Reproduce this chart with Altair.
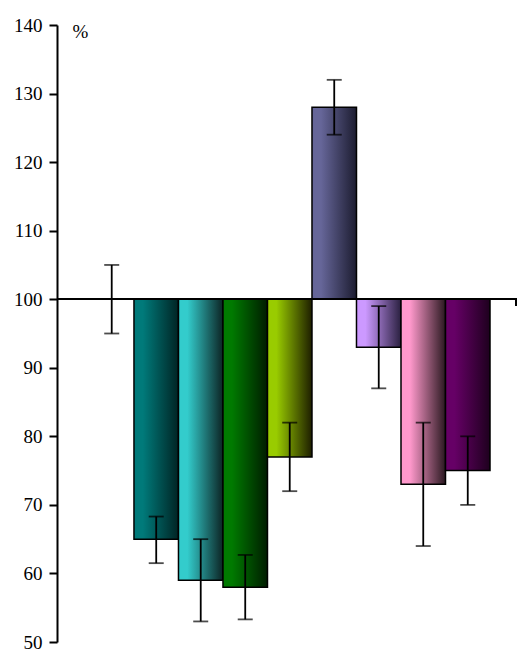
import altair as alt
import pandas as pd

categories = ["C0", "C1", "C2", "C3", "C4", "C5", "C6", "C7", "C8"]
values = [100, 65, 59, 58, 77, 128, 93, 73, 75]
err_low = [95, 61.5, 53, 53.3, 72, 124, 87, 64, 70]
err_high = [105, 68.3, 65, 62.7, 82, 132, 99, 82, 80]
light_colors = [None, "#007a7a", "#33cccc", "#007a00", "#99cc00", "#666699", "#cc99ff", "#ff99cc", "#660066"]
dark_colors = [None, "#002424", "#0c2424", "#001c00", "#1e1e00", "#1c1c30", "#2a2040", "#2a1820", "#1e001e"]
y_ticks = [50, 60, 70, 80, 90, 100, 110, 120, 130, 140]

df = pd.DataFrame({
    "cat": categories,
    "value": values,
    "lo": err_low,
    "hi": err_high,
})

FONT = "'Liberation Serif', 'Times New Roman', Times, serif"
W, H = 460, 617

xscale = alt.Scale(domain=categories, paddingInner=0, paddingOuter=0.668, align=0.546)
yscale = alt.Scale(domain=[50, 140], nice=False, zero=False, padding=0)
yaxis = alt.Axis(values=y_ticks, title="%", grid=False)

base = alt.Chart(df)

layers = []
for c, lc, dc in zip(categories, light_colors, dark_colors):
    if lc is None:
        continue
    grad = alt.Gradient(
        gradient="linear",
        x1=0, x2=1, y1=0, y2=0,
        stops=[
            alt.GradientStop(color=lc, offset=0),
            alt.GradientStop(color=lc, offset=0.2),
            alt.GradientStop(color=dc, offset=1),
        ],
    )
    layers.append(
        base.transform_filter(alt.datum.cat == c)
        .mark_bar(color=grad, stroke="black", strokeWidth=1.5)
        .encode(
            x=alt.X("cat:N", scale=xscale, axis=None),
            y=alt.Y("value:Q", scale=yscale, axis=yaxis),
            y2=alt.datum(100),
        )
    )

baseline = base.mark_rule(color="black", strokeWidth=1.5).encode(
    y=alt.datum(100), x=alt.value(0), x2=alt.value(W)
)
end_tick = base.mark_rule(color="black", strokeWidth=1.5).encode(
    x=alt.value(W - 1), y=alt.datum(100), y2=alt.datum(99)
)

err_rule = base.mark_rule(color="black", strokeWidth=1.8).encode(
    x=alt.X("cat:N", scale=xscale, axis=None),
    y=alt.Y("lo:Q", scale=yscale, axis=yaxis),
    y2="hi:Q",
)
cap_lo = base.mark_tick(color="black", thickness=1.8, size=15).encode(
    x=alt.X("cat:N", scale=xscale, axis=None),
    y=alt.Y("lo:Q", scale=yscale, axis=yaxis),
)
cap_hi = base.mark_tick(color="black", thickness=1.8, size=15).encode(
    x=alt.X("cat:N", scale=xscale, axis=None),
    y=alt.Y("hi:Q", scale=yscale, axis=yaxis),
)

chart = alt.layer(*layers, baseline, end_tick, err_rule, cap_lo, cap_hi).properties(
    width=W, height=H,
    autosize=alt.AutoSizeParams(type="none"),
    padding={"left": 49, "top": 17, "right": 0, "bottom": 9},
).configure(
    background="white",
    view=alt.ViewConfig(strokeWidth=0),
    axis=alt.AxisConfig(
        labelFont=FONT, labelFontSize=19, labelColor="black", labelPadding=7,
        tickSize=8, tickWidth=2, tickColor="black",
        domainColor="black", domainWidth=2,
        titleFont=FONT, titleFontSize=19, titleFontWeight="normal",
        titleColor="black", titleAngle=0, titleX=15, titleY=16,
        titleAlign="left",
    ),
)

chart.save("out.html", embed_options={"renderer": "svg", "actions": False})
